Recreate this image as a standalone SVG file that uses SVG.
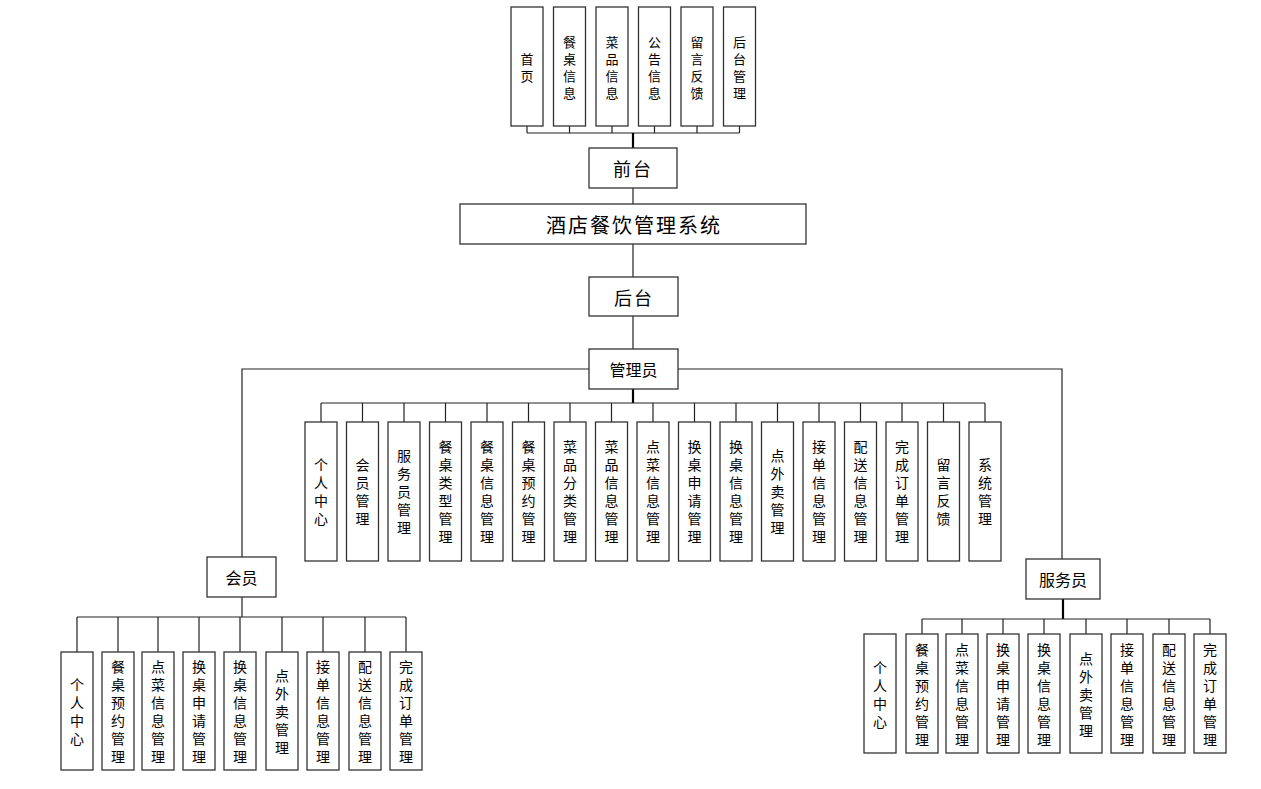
<svg xmlns="http://www.w3.org/2000/svg" width="1261" height="789" viewBox="0 0 1261 789">
<style>
rect{fill:#fff;stroke:#333;stroke-width:1.3}
text{font-family:"Noto Sans CJK SC","Noto Sans",sans-serif;fill:#000;text-anchor:middle}
.v{font-size:14px;dominant-baseline:central}
.s{font-size:13px}
.h{font-size:16px;dominant-baseline:central}
.c path{fill:none;stroke:#222;stroke-width:1.2}
.c .t{stroke:#000;stroke-width:2.2}
</style>
<rect x="0" y="0" width="1261" height="789" style="fill:#fff;stroke:none"/>
<g class="c" id="connectors">
<path d="M527 126V133M569.5 126V133M612 126V133M654.5 126V133M697 126V133M739.5 126V133M527 133H739.5"/>
<path class="t" d="M633 133V148"/>
<path d="M633 188V204M633 244V277M633 316V349"/>
<path class="t" d="M633 389V403"/>
<path d="M321 403H985M321 403V422M362.5 403V422M404 403V422M445.5 403V422M487 403V422M528.5 403V422M570 403V422M611.5 403V422M653 403V422M694.5 403V422M736 403V422M777.5 403V422M819 403V422M860.5 403V422M902 403V422M943.5 403V422M985 403V422"/>
<path d="M589 369H242V557M678 369H1062V559"/>
<path d="M242 597V617M77 617H406M77 617V652M118 617V652M158 617V652M199 617V652M240 617V652M282 617V652M323 617V652M365 617V652M406 617V652"/>
<path class="t" d="M1063 599V619"/>
<path d="M922 619H1210M922 619V634M962 619V634M1003 619V634M1044 619V634M1086 619V634M1127 619V634M1169 619V634M1210 619V634"/>
</g>
<g id="top-1"><rect x="511" y="7" width="32" height="119"/><text class="v s"><tspan x="527" y="58">首</tspan><tspan x="527" y="75">页</tspan></text></g>
<g id="top-2"><rect x="553.5" y="7" width="32" height="119"/><text class="v s"><tspan x="569.5" y="41">餐</tspan><tspan x="569.5" y="58">桌</tspan><tspan x="569.5" y="75">信</tspan><tspan x="569.5" y="92">息</tspan></text></g>
<g id="top-3"><rect x="596" y="7" width="32" height="119"/><text class="v s"><tspan x="612" y="41">菜</tspan><tspan x="612" y="58">品</tspan><tspan x="612" y="75">信</tspan><tspan x="612" y="92">息</tspan></text></g>
<g id="top-4"><rect x="638.5" y="7" width="32" height="119"/><text class="v s"><tspan x="654.5" y="41">公</tspan><tspan x="654.5" y="58">告</tspan><tspan x="654.5" y="75">信</tspan><tspan x="654.5" y="92">息</tspan></text></g>
<g id="top-5"><rect x="681" y="7" width="32" height="119"/><text class="v s"><tspan x="697" y="41">留</tspan><tspan x="697" y="58">言</tspan><tspan x="697" y="75">反</tspan><tspan x="697" y="92">馈</tspan></text></g>
<g id="top-6"><rect x="723.5" y="7" width="32" height="119"/><text class="v s"><tspan x="739.5" y="41">后</tspan><tspan x="739.5" y="58">台</tspan><tspan x="739.5" y="75">管</tspan><tspan x="739.5" y="92">理</tspan></text></g>
<g id="qiantai"><rect x="589" y="148" width="88" height="40"/><text class="h" x="633" y="168" style="font-size:18px;letter-spacing:2px">前台</text></g>
<g id="system"><rect x="460" y="204" width="346" height="40"/><text class="h" x="634" y="224" style="font-size:20px;letter-spacing:2px">酒店餐饮管理系统</text></g>
<g id="houtai"><rect x="589" y="277" width="89" height="39"/><text class="h" x="634" y="296.5" style="font-size:18px;letter-spacing:2px">后台</text></g>
<g id="admin"><rect x="589" y="349" width="89" height="40"/><text class="h" x="633.5" y="369">管理员</text></g>
<g id="a1"><rect x="305" y="422" width="32" height="139"/><text class="v"><tspan x="321" y="464">个</tspan><tspan x="321" y="482">人</tspan><tspan x="321" y="500">中</tspan><tspan x="321" y="518">心</tspan></text></g>
<g id="a2"><rect x="346.5" y="422" width="32" height="139"/><text class="v"><tspan x="362.5" y="464">会</tspan><tspan x="362.5" y="482">员</tspan><tspan x="362.5" y="500">管</tspan><tspan x="362.5" y="518">理</tspan></text></g>
<g id="a3"><rect x="388" y="422" width="32" height="139"/><text class="v"><tspan x="404" y="455">服</tspan><tspan x="404" y="473">务</tspan><tspan x="404" y="491">员</tspan><tspan x="404" y="509">管</tspan><tspan x="404" y="527">理</tspan></text></g>
<g id="a4"><rect x="429.5" y="422" width="32" height="139"/><text class="v"><tspan x="445.5" y="446">餐</tspan><tspan x="445.5" y="464">桌</tspan><tspan x="445.5" y="482">类</tspan><tspan x="445.5" y="500">型</tspan><tspan x="445.5" y="518">管</tspan><tspan x="445.5" y="536">理</tspan></text></g>
<g id="a5"><rect x="471" y="422" width="32" height="139"/><text class="v"><tspan x="487" y="446">餐</tspan><tspan x="487" y="464">桌</tspan><tspan x="487" y="482">信</tspan><tspan x="487" y="500">息</tspan><tspan x="487" y="518">管</tspan><tspan x="487" y="536">理</tspan></text></g>
<g id="a6"><rect x="512.5" y="422" width="32" height="139"/><text class="v"><tspan x="528.5" y="446">餐</tspan><tspan x="528.5" y="464">桌</tspan><tspan x="528.5" y="482">预</tspan><tspan x="528.5" y="500">约</tspan><tspan x="528.5" y="518">管</tspan><tspan x="528.5" y="536">理</tspan></text></g>
<g id="a7"><rect x="554" y="422" width="32" height="139"/><text class="v"><tspan x="570" y="446">菜</tspan><tspan x="570" y="464">品</tspan><tspan x="570" y="482">分</tspan><tspan x="570" y="500">类</tspan><tspan x="570" y="518">管</tspan><tspan x="570" y="536">理</tspan></text></g>
<g id="a8"><rect x="595.5" y="422" width="32" height="139"/><text class="v"><tspan x="611.5" y="446">菜</tspan><tspan x="611.5" y="464">品</tspan><tspan x="611.5" y="482">信</tspan><tspan x="611.5" y="500">息</tspan><tspan x="611.5" y="518">管</tspan><tspan x="611.5" y="536">理</tspan></text></g>
<g id="a9"><rect x="637" y="422" width="32" height="139"/><text class="v"><tspan x="653" y="446">点</tspan><tspan x="653" y="464">菜</tspan><tspan x="653" y="482">信</tspan><tspan x="653" y="500">息</tspan><tspan x="653" y="518">管</tspan><tspan x="653" y="536">理</tspan></text></g>
<g id="a10"><rect x="678.5" y="422" width="32" height="139"/><text class="v"><tspan x="694.5" y="446">换</tspan><tspan x="694.5" y="464">桌</tspan><tspan x="694.5" y="482">申</tspan><tspan x="694.5" y="500">请</tspan><tspan x="694.5" y="518">管</tspan><tspan x="694.5" y="536">理</tspan></text></g>
<g id="a11"><rect x="720" y="422" width="32" height="139"/><text class="v"><tspan x="736" y="446">换</tspan><tspan x="736" y="464">桌</tspan><tspan x="736" y="482">信</tspan><tspan x="736" y="500">息</tspan><tspan x="736" y="518">管</tspan><tspan x="736" y="536">理</tspan></text></g>
<g id="a12"><rect x="761.5" y="422" width="32" height="139"/><text class="v"><tspan x="777.5" y="455">点</tspan><tspan x="777.5" y="473">外</tspan><tspan x="777.5" y="491">卖</tspan><tspan x="777.5" y="509">管</tspan><tspan x="777.5" y="527">理</tspan></text></g>
<g id="a13"><rect x="803" y="422" width="32" height="139"/><text class="v"><tspan x="819" y="446">接</tspan><tspan x="819" y="464">单</tspan><tspan x="819" y="482">信</tspan><tspan x="819" y="500">息</tspan><tspan x="819" y="518">管</tspan><tspan x="819" y="536">理</tspan></text></g>
<g id="a14"><rect x="844.5" y="422" width="32" height="139"/><text class="v"><tspan x="860.5" y="446">配</tspan><tspan x="860.5" y="464">送</tspan><tspan x="860.5" y="482">信</tspan><tspan x="860.5" y="500">息</tspan><tspan x="860.5" y="518">管</tspan><tspan x="860.5" y="536">理</tspan></text></g>
<g id="a15"><rect x="886" y="422" width="32" height="139"/><text class="v"><tspan x="902" y="446">完</tspan><tspan x="902" y="464">成</tspan><tspan x="902" y="482">订</tspan><tspan x="902" y="500">单</tspan><tspan x="902" y="518">管</tspan><tspan x="902" y="536">理</tspan></text></g>
<g id="a16"><rect x="927.5" y="422" width="32" height="139"/><text class="v"><tspan x="943.5" y="464">留</tspan><tspan x="943.5" y="482">言</tspan><tspan x="943.5" y="500">反</tspan><tspan x="943.5" y="518">馈</tspan></text></g>
<g id="a17"><rect x="969" y="422" width="32" height="139"/><text class="v"><tspan x="985" y="464">系</tspan><tspan x="985" y="482">统</tspan><tspan x="985" y="500">管</tspan><tspan x="985" y="518">理</tspan></text></g>
<g id="member"><rect x="207" y="557" width="69" height="40"/><text class="h" x="241.5" y="577">会员</text></g>
<g id="m1"><rect x="61" y="652" width="32" height="118"/><text class="v"><tspan x="77" y="684">个</tspan><tspan x="77" y="702">人</tspan><tspan x="77" y="720">中</tspan><tspan x="77" y="738">心</tspan></text></g>
<g id="m2"><rect x="102" y="652" width="32" height="118"/><text class="v"><tspan x="118" y="666">餐</tspan><tspan x="118" y="684">桌</tspan><tspan x="118" y="702">预</tspan><tspan x="118" y="720">约</tspan><tspan x="118" y="738">管</tspan><tspan x="118" y="756">理</tspan></text></g>
<g id="m3"><rect x="142" y="652" width="32" height="118"/><text class="v"><tspan x="158" y="666">点</tspan><tspan x="158" y="684">菜</tspan><tspan x="158" y="702">信</tspan><tspan x="158" y="720">息</tspan><tspan x="158" y="738">管</tspan><tspan x="158" y="756">理</tspan></text></g>
<g id="m4"><rect x="183" y="652" width="32" height="118"/><text class="v"><tspan x="199" y="666">换</tspan><tspan x="199" y="684">桌</tspan><tspan x="199" y="702">申</tspan><tspan x="199" y="720">请</tspan><tspan x="199" y="738">管</tspan><tspan x="199" y="756">理</tspan></text></g>
<g id="m5"><rect x="224" y="652" width="32" height="118"/><text class="v"><tspan x="240" y="666">换</tspan><tspan x="240" y="684">桌</tspan><tspan x="240" y="702">信</tspan><tspan x="240" y="720">息</tspan><tspan x="240" y="738">管</tspan><tspan x="240" y="756">理</tspan></text></g>
<g id="m6"><rect x="266" y="652" width="32" height="118"/><text class="v"><tspan x="282" y="675">点</tspan><tspan x="282" y="693">外</tspan><tspan x="282" y="711">卖</tspan><tspan x="282" y="729">管</tspan><tspan x="282" y="747">理</tspan></text></g>
<g id="m7"><rect x="307" y="652" width="32" height="118"/><text class="v"><tspan x="323" y="666">接</tspan><tspan x="323" y="684">单</tspan><tspan x="323" y="702">信</tspan><tspan x="323" y="720">息</tspan><tspan x="323" y="738">管</tspan><tspan x="323" y="756">理</tspan></text></g>
<g id="m8"><rect x="349" y="652" width="32" height="118"/><text class="v"><tspan x="365" y="666">配</tspan><tspan x="365" y="684">送</tspan><tspan x="365" y="702">信</tspan><tspan x="365" y="720">息</tspan><tspan x="365" y="738">管</tspan><tspan x="365" y="756">理</tspan></text></g>
<g id="m9"><rect x="390" y="652" width="32" height="118"/><text class="v"><tspan x="406" y="666">完</tspan><tspan x="406" y="684">成</tspan><tspan x="406" y="702">订</tspan><tspan x="406" y="720">单</tspan><tspan x="406" y="738">管</tspan><tspan x="406" y="756">理</tspan></text></g>
<g id="waiter"><rect x="1026" y="559" width="74" height="40"/><text class="h" x="1063" y="579">服务员</text></g>
<g id="w1"><rect x="864" y="634" width="32" height="119"/><text class="v"><tspan x="880" y="666.5">个</tspan><tspan x="880" y="684.5">人</tspan><tspan x="880" y="702.5">中</tspan><tspan x="880" y="720.5">心</tspan></text></g>
<g id="w2"><rect x="906" y="634" width="32" height="119"/><text class="v"><tspan x="922" y="648.5">餐</tspan><tspan x="922" y="666.5">桌</tspan><tspan x="922" y="684.5">预</tspan><tspan x="922" y="702.5">约</tspan><tspan x="922" y="720.5">管</tspan><tspan x="922" y="738.5">理</tspan></text></g>
<g id="w3"><rect x="946" y="634" width="32" height="119"/><text class="v"><tspan x="962" y="648.5">点</tspan><tspan x="962" y="666.5">菜</tspan><tspan x="962" y="684.5">信</tspan><tspan x="962" y="702.5">息</tspan><tspan x="962" y="720.5">管</tspan><tspan x="962" y="738.5">理</tspan></text></g>
<g id="w4"><rect x="987" y="634" width="32" height="119"/><text class="v"><tspan x="1003" y="648.5">换</tspan><tspan x="1003" y="666.5">桌</tspan><tspan x="1003" y="684.5">申</tspan><tspan x="1003" y="702.5">请</tspan><tspan x="1003" y="720.5">管</tspan><tspan x="1003" y="738.5">理</tspan></text></g>
<g id="w5"><rect x="1028" y="634" width="32" height="119"/><text class="v"><tspan x="1044" y="648.5">换</tspan><tspan x="1044" y="666.5">桌</tspan><tspan x="1044" y="684.5">信</tspan><tspan x="1044" y="702.5">息</tspan><tspan x="1044" y="720.5">管</tspan><tspan x="1044" y="738.5">理</tspan></text></g>
<g id="w6"><rect x="1070" y="634" width="32" height="119"/><text class="v"><tspan x="1086" y="657.5">点</tspan><tspan x="1086" y="675.5">外</tspan><tspan x="1086" y="693.5">卖</tspan><tspan x="1086" y="711.5">管</tspan><tspan x="1086" y="729.5">理</tspan></text></g>
<g id="w7"><rect x="1111" y="634" width="32" height="119"/><text class="v"><tspan x="1127" y="648.5">接</tspan><tspan x="1127" y="666.5">单</tspan><tspan x="1127" y="684.5">信</tspan><tspan x="1127" y="702.5">息</tspan><tspan x="1127" y="720.5">管</tspan><tspan x="1127" y="738.5">理</tspan></text></g>
<g id="w8"><rect x="1153" y="634" width="32" height="119"/><text class="v"><tspan x="1169" y="648.5">配</tspan><tspan x="1169" y="666.5">送</tspan><tspan x="1169" y="684.5">信</tspan><tspan x="1169" y="702.5">息</tspan><tspan x="1169" y="720.5">管</tspan><tspan x="1169" y="738.5">理</tspan></text></g>
<g id="w9"><rect x="1194" y="634" width="32" height="119"/><text class="v"><tspan x="1210" y="648.5">完</tspan><tspan x="1210" y="666.5">成</tspan><tspan x="1210" y="684.5">订</tspan><tspan x="1210" y="702.5">单</tspan><tspan x="1210" y="720.5">管</tspan><tspan x="1210" y="738.5">理</tspan></text></g>
</svg>
